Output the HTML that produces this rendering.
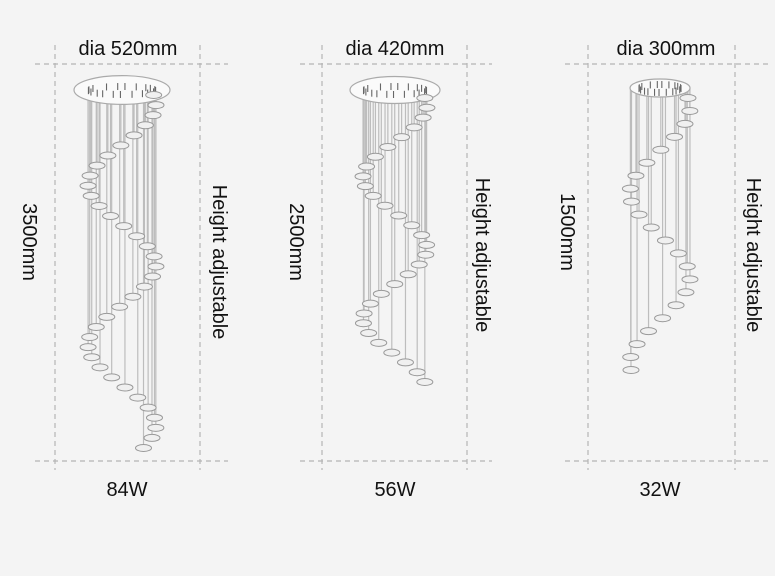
<!DOCTYPE html>
<html><head><meta charset="utf-8"><style>
html,body{margin:0;padding:0;background:#f4f4f4;}
svg{display:block}
text{font-family:"Liberation Sans",sans-serif;fill:#111;}
</style></head><body>
<svg id="s" width="775" height="576" viewBox="0 0 775 576" xmlns="http://www.w3.org/2000/svg">
<rect width="775" height="576" fill="#f4f4f4"/>
<g stroke="#b5b5b5" stroke-width="1.2" stroke-dasharray="5,4" fill="none">
<line x1="35" y1="64" x2="228" y2="64"/><line x1="35" y1="461" x2="228" y2="461"/>
<line x1="55" y1="45" x2="55" y2="470"/><line x1="200" y1="45" x2="200" y2="470"/>
<line x1="300" y1="64" x2="492" y2="64"/><line x1="300" y1="461" x2="492" y2="461"/>
<line x1="322" y1="45" x2="322" y2="470"/><line x1="467" y1="45" x2="467" y2="470"/>
<line x1="565" y1="64" x2="768" y2="64"/><line x1="565" y1="461" x2="768" y2="461"/>
<line x1="588" y1="45" x2="588" y2="470"/><line x1="735" y1="45" x2="735" y2="470"/>
</g>
<g id="ch"></g>
<g font-size="20">
<text x="128" y="55" text-anchor="middle">dia 520mm</text>
<text x="395" y="55" text-anchor="middle">dia 420mm</text>
<text x="666" y="55" text-anchor="middle">dia 300mm</text>
<text x="127" y="496" text-anchor="middle">84W</text>
<text x="395" y="496" text-anchor="middle">56W</text>
<text x="660" y="496" text-anchor="middle">32W</text>
<text transform="translate(23,242) rotate(90)" text-anchor="middle">3500mm</text>
<text transform="translate(290,242) rotate(90)" text-anchor="middle">2500mm</text>
<text transform="translate(561,232) rotate(90)" text-anchor="middle">1500mm</text>
<text transform="translate(213,262) rotate(90)" text-anchor="middle">Height adjustable</text>
<text transform="translate(476,255) rotate(90)" text-anchor="middle">Height adjustable</text>
<text transform="translate(747,255) rotate(90)" text-anchor="middle">Height adjustable</text>
</g>
</svg>
<script>
var g=document.getElementById('ch'),ns="http://www.w3.org/2000/svg";
function el(t,a){var e=document.createElementNS(ns,t);for(var k in a)e.setAttribute(k,a[k]);g.appendChild(e);}
function chand(cx,cy,rx,n,y0,y1,R,turns){
 var out=[];
 for(var i=0;i<n;i++){var f=i/(n-1);var t=f*turns*2*Math.PI+1.2;
  out.push([cx+R*Math.sin(t),y0+f*(y1-y0)]);}
 out.forEach(function(p){el('line',{x1:p[0],y1:cy,x2:p[0],y2:p[1],stroke:'#bdbdbd','stroke-width':1.2});});
 el('ellipse',{cx:cx,cy:cy,rx:rx,ry:rx*0.3,fill:'#fafafa',stroke:'#aaa','stroke-width':1.2});
 for(var j=0;j<20;j++){var a=j*2.4;el('line',{x1:cx+rx*0.7*Math.cos(a),y1:cy-3+4*Math.sin(a),x2:cx+rx*0.7*Math.cos(a),y2:cy+4+4*Math.sin(a),stroke:'#666','stroke-width':1.1});}
 out.forEach(function(p){el('ellipse',{cx:p[0],cy:p[1],rx:8,ry:3.5,fill:'#f0f0f0',stroke:'#999','stroke-width':1});});
}
chand(122,90,48,36,95,448,34,2.2);
chand(395,90,45,30,98,382,32,2);
chand(660,88,30,22,98,370,30,1.6);
</script>
</body></html>
